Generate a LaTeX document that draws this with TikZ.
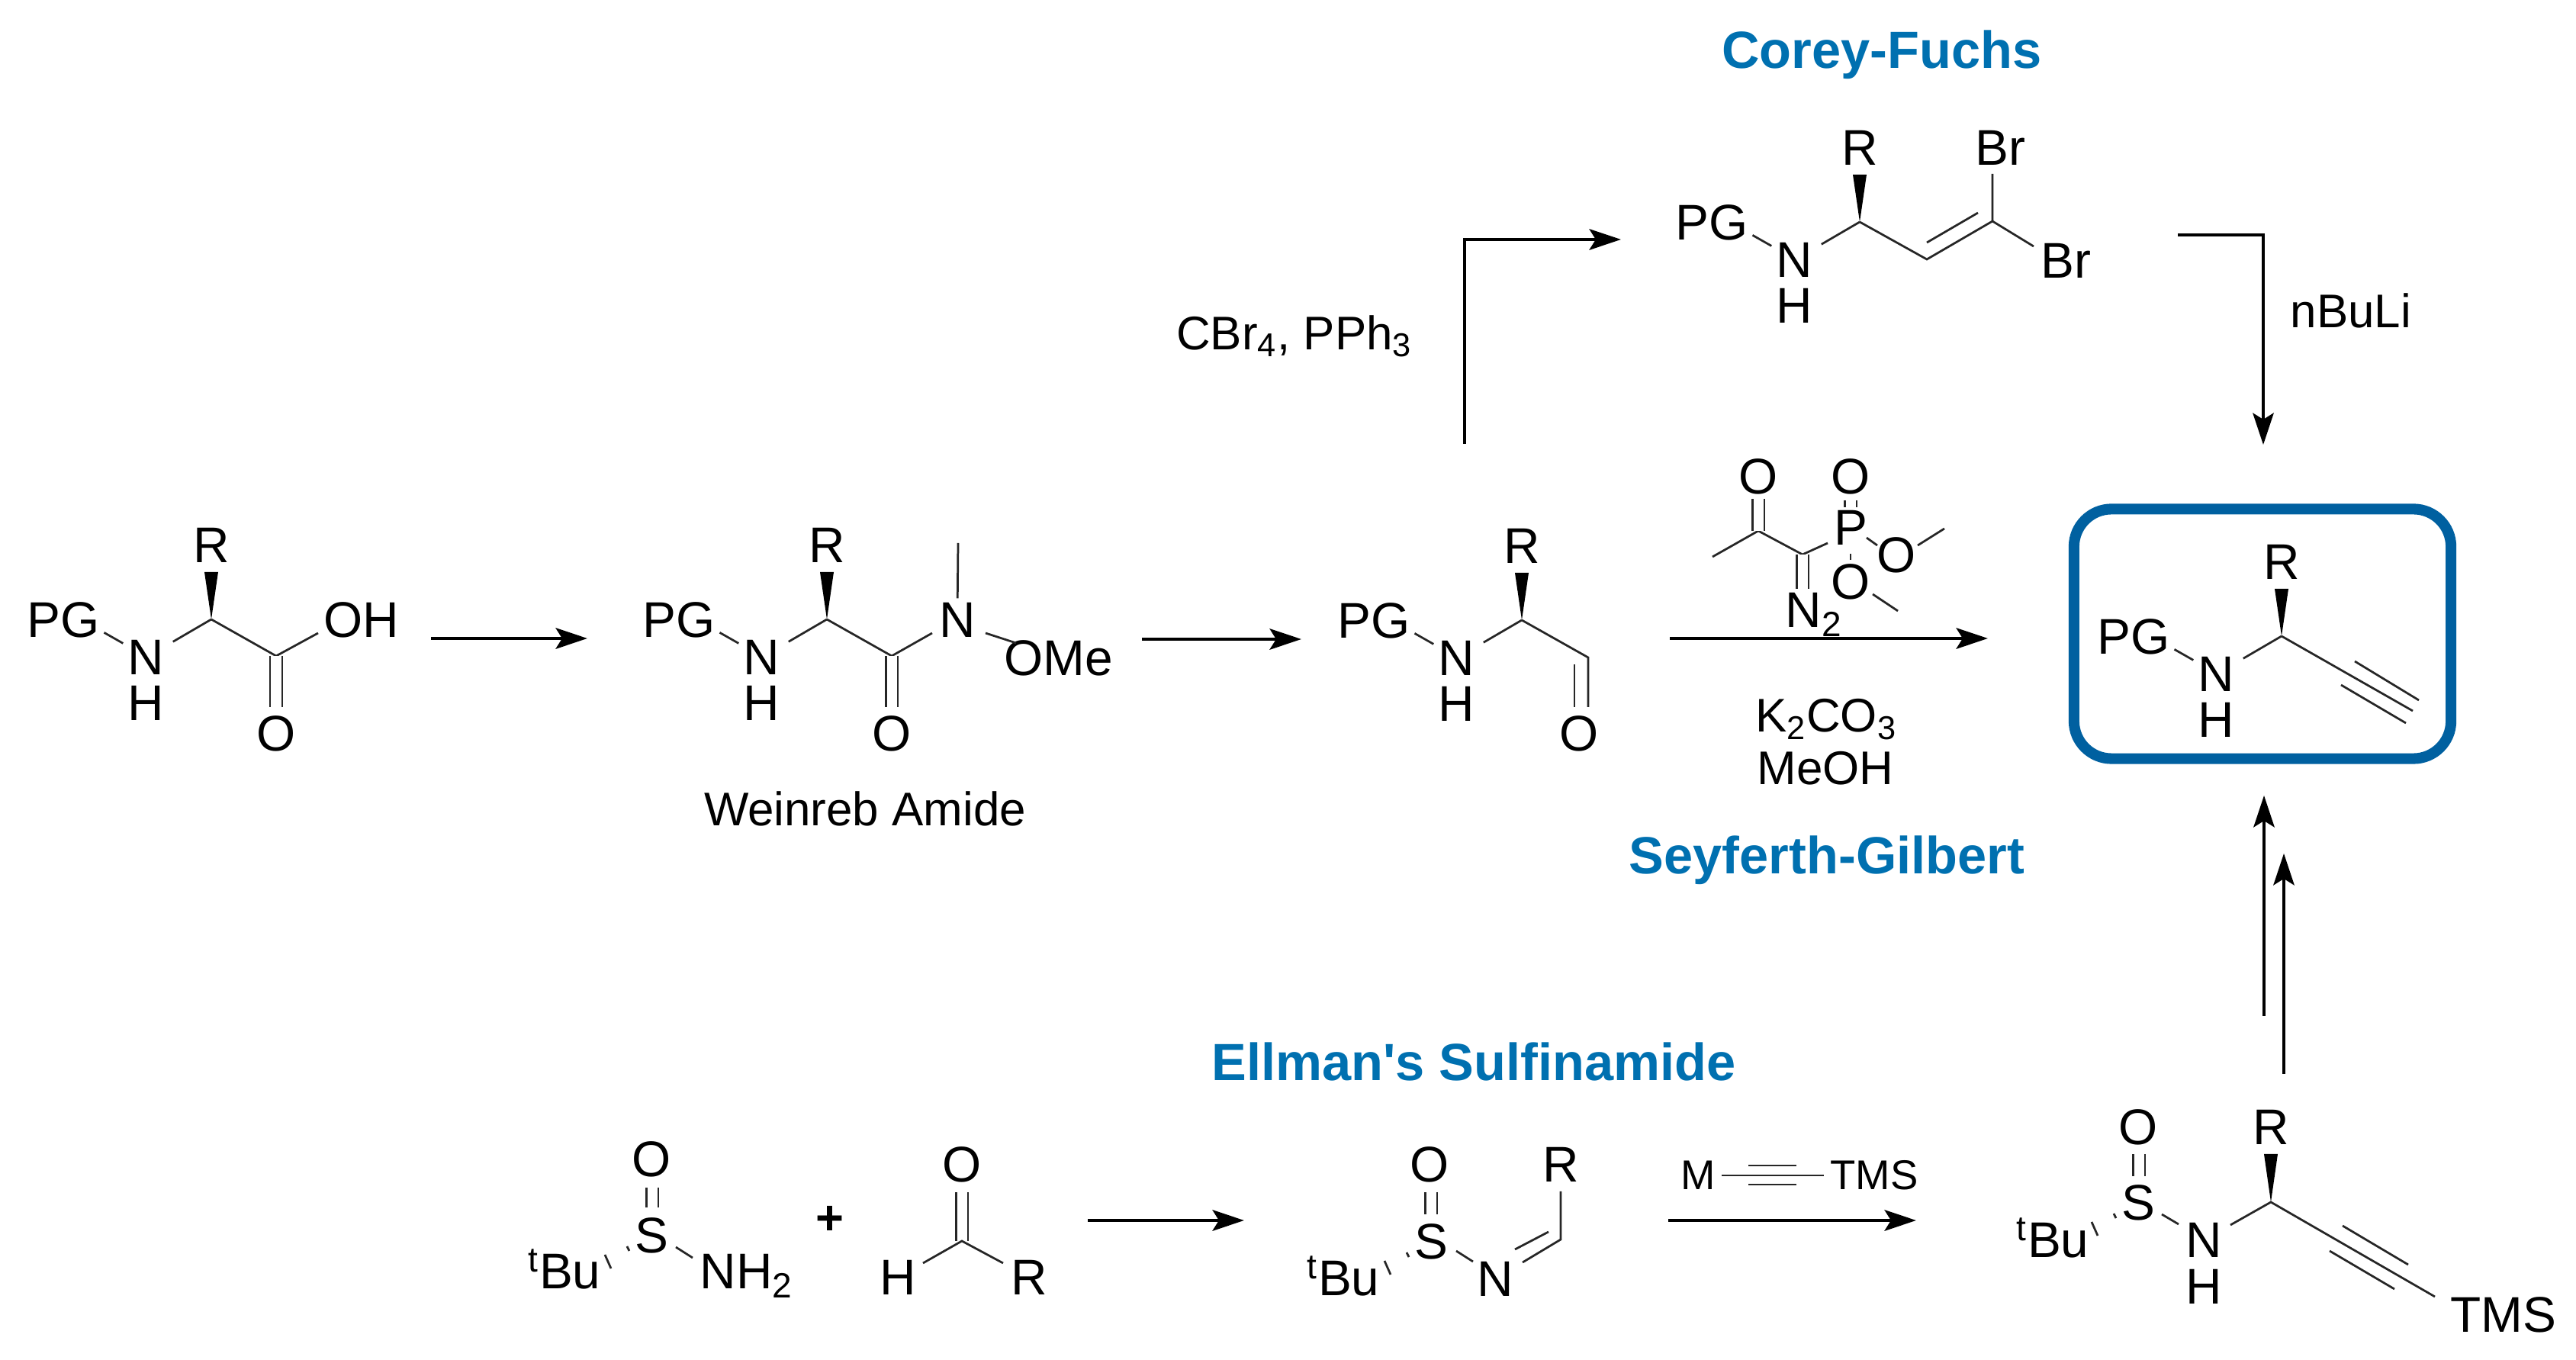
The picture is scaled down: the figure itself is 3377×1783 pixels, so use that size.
\documentclass[tikz,border=0pt]{standalone}
\usepackage{fontspec}
\setmainfont{Liberation Sans}
\usetikzlibrary{arrows.meta, calc}
\definecolor{titleblue}{HTML}{0070B0}
\definecolor{boxblue}{HTML}{0060A0}
\tikzset{
  atom/.style={font=\fontsize{18.7}{20}\selectfont, inner sep=1.5pt},
  lab/.style={font=\fontsize{17.6}{20}\selectfont, inner sep=0pt, align=center},
  title/.style={font=\fontsize{19.5}{22}\selectfont\bfseries, text=titleblue, inner sep=0pt},
  bond/.style={line width=0.78pt, black!85},
  dbl/.style={double, double distance=3.7pt, line width=0.65pt, black!85},
  rxn/.style={line width=1.1pt, -{Stealth[length=11.8pt, width=7.8pt, inset=2.4pt]}}
}

\begin{document}
\begin{tikzpicture}[x=0.01cm, y=-0.01cm]
    \useasboundingbox (0,0) rectangle (3377,1783);
    % common PG-NH-CH(R) part
    \foreach \m/\x/\y in {acid/277/812, amide/1084/812, ald/1995/813, dibr/2438/291, alk/2991/834}{
        \coordinate (\m-c) at (\x,\y);
        \node[atom] (\m-pg) at ($(\m-c)+(-194,1)$) {PG};
        \node[atom] (\m-n) at ($(\m-c)+(-86,50)$) {N};
        \node[atom] (\m-h) at ($(\m-c)+(-86,110)$) {H};
        \node[atom] (\m-r) at ($(\m-c)+(0,-97)$) {R};
        \draw[bond] (\m-pg.-17) -- (\m-n.148);
        \draw[bond, shorten <=2pt] (\m-n.30) -- (\m-c);
        \fill (\m-c) -- ($(\m-c)+(-9,-62)$) -- ($(\m-c)+(9,-62)$) -- cycle;
    }
    % acid
    \coordinate (acid-co) at (362,860);
    \node[atom] (acid-o) at (362,962) {O};
    \node[atom] (acid-oh) at (474,813) {OH};
    \draw[bond] (acid-c) -- (acid-co) -- ($(acid-oh)+(-57,17)$);
    \draw[dbl] (acid-co) -- (362,927) coordinate (acid-oe);
    % Weinreb amide
    \coordinate (amide-co) at (1169,860);
    \node[atom] (amide-o) at (1169,962) {O};
    \node[atom] (amide-nme) at (1255,813) {N};
    \node[atom] (amide-ome) at (1388,863) {OMe};
    \coordinate (amide-me) at (1256,712);
    \draw[bond] (amide-c) -- (amide-co) -- ($(amide-nme)+(-33,17)$);
    \draw[dbl] (amide-co) -- (1169,927) coordinate (amide-oe);
    \draw[bond] (amide-nme) -- (amide-me);
    \draw[bond] ($(amide-nme)+(37,17)$) -- ($(amide-ome)+(-56,-20)$);
    \node[lab] (weinreb) at (1134,1060) {Weinreb Amide};
    % aldehyde
    \coordinate (ald-co) at (2082,862);
    \node[atom] (ald-o) at (2070,962) {O};
    \draw[bond] (ald-c) -- (ald-co) -- ++(0,65);
    \draw[bond] ($(ald-co)+(-18,9)$) -- ++(0,56);
    % dibromoalkene
    \coordinate (dibr-ch) at (2526,340);
    \coordinate (dibr-cb) at (2612,290);
    \node[atom] (dibr-br1) at (2622,194) {Br};
    \node[atom] (dibr-br2) at (2708,342) {Br};
    \draw[bond] (dibr-c) -- (dibr-ch) -- (dibr-cb) -- (2612,228);
    \draw[bond] (dibr-cb) -- (2666,323);
    \draw[bond] ($(dibr-ch)+(0,-22)$) -- ($(dibr-cb)+(-19,-11)$);
    % alkyne in the box
    \node[draw=boxblue, line width=4pt, rounded corners=14pt, minimum width=4.94cm, minimum height=3.27cm] (prodbox) at (2966,831) {};
    \coordinate (alk-end) at (3163,932);
    \draw[bond] (alk-c) -- (alk-end);
    \draw[bond] (3087,867) -- (3171,918);
    \draw[bond] (3069,898) -- (3154,948);
    % Seyferth-Gilbert reagent
    \node[atom] (sg-o1) at (2305,625) {O};
    \node[atom] (sg-o2) at (2426,625) {O};
    \node[atom] (sg-p) at (2426,692) {P};
    \node[atom] (sg-o3) at (2426,763) {O};
    \node[atom] (sg-o4) at (2486,728) {O};
    \node[atom, anchor=base west, inner sep=0pt] (sg-n2) at (2340,823) {N\textsubscript{2}};
    \coordinate (sg-ck) at (2305,696);
    \coordinate (sg-cn) at (2363,727);
    \draw[bond] (2245,730) -- (sg-ck) -- (sg-cn) -- (2396,712);
    \draw[dbl] (sg-ck) -- (2305,654);
    \draw[dbl] (sg-cn) -- (2363,772);
    \draw[dbl] (2426,656) -- (2426,665);
    \draw[bond] (2426,726) -- (2426,734);
    \draw[bond] (2447,705) -- (2461,715);
    \draw[bond] (2514,715) -- (2549,693);
    \draw[bond] (2455,779) -- (2488,801);
    % Ellman row
    \node[atom] (am-o) at (854,1520) {O};
    \node[atom] (am-s) at (854,1620) {S};
    \node[atom, anchor=base] (am-tbu) at (740,1690) {\textsuperscript{t}Bu};
    \node[atom, anchor=base west, inner sep=0pt] (am-nh) at (917,1690) {NH\textsubscript{2}};
    \draw[dbl] (855,1557) -- (855,1583);
    \draw[bond] (886,1635) -- (908,1649);
    \node[inner sep=0pt, font=\fontsize{18}{20}\selectfont\bfseries] (plus) at (1088,1600) {+};
    \node[atom] (rc-o) at (1261,1527) {O};
    \coordinate (rc-c) at (1261,1627);
    \node[atom] (rc-h) at (1177,1675) {H};
    \node[atom] (rc-r) at (1349,1675) {R};
    \draw[dbl] (rc-c) -- (1261,1563);
    \draw[bond] ($(rc-h)+(33,-19)$) -- (rc-c) -- ($(rc-r)+(-34,-19)$);
    % imine
    \node[atom] (im-o) at (1874,1527) {O};
    \node[atom] (im-r) at (2046,1527) {R};
    \node[atom] (im-s) at (1876,1628) {S};
    \node[atom] (im-n) at (1960,1677) {N};
    \node[atom, anchor=base] (im-tbu) at (1761,1699) {\textsuperscript{t}Bu};
    \coordinate (im-c) at (2046,1625);
    \draw[dbl] (1876,1563) -- (1876,1592);
    \draw[bond] (1909,1640) -- (1931,1654);
    \draw[bond] (1996,1655) -- (im-c) -- (2046,1562);
    \draw[bond] (1986,1638) -- (2030,1615);
    % addition product
    \node[atom] (ad-o) at (2803,1478) {O};
    \node[atom] (ad-r) at (2977,1478) {R};
    \node[atom] (ad-s) at (2803,1577) {S};
    \node[atom] (ad-n) at (2889,1626) {N};
    \node[atom] (ad-h) at (2889,1687) {H};
    \node[atom, anchor=base] (ad-tbu) at (2691,1649) {\textsuperscript{t}Bu};
    \node[atom] (ad-tms) at (3282,1724) {TMS};
    \coordinate (ad-c) at (2977,1576);
    \draw[dbl] (2804,1513) -- (2804,1542);
    \draw[bond] (2834,1592) -- (2856,1605);
    \draw[bond] ($(ad-n)+(35,-20)$) -- (ad-c) -- (3192,1700);
    \fill (ad-c) -- ($(ad-c)+(-9,-63)$) -- ($(ad-c)+(9,-63)$) -- cycle;
    \draw[bond] (3071,1607) -- (3157,1658);
    \draw[bond] (3054,1640) -- (3139,1690);
    % hashed S-tBu bonds
    \foreach \s in {am-s, im-s, ad-s}{
        \draw[bond] ($(\s)+(-32,14)$) -- ++(3,6);
        \draw[bond] ($(\s)+(-61,25)$) -- ++(8,18);
    }
    % straight arrows
    \foreach \a/\xa/\xb/\yy in {ar1/565/770/837, ar2/1497/1706/838, ar3/2189/2606/837, ar4/1426/1631/1600, ar5/2187/2512/1600}{
        \coordinate (\a s) at (\xa,\yy);
        \coordinate (\a e) at (\xb,\yy);
        \draw[rxn] (\a s) -- (\a e);
    }
    % arrows with a corner
    \coordinate (cf-a) at (1920,582);
    \coordinate (cf-b) at (1920,314);
    \coordinate (cf-c) at (2125,314);
    \draw[rxn] (cf-a) -- (cf-b) -- (cf-c);
    \coordinate (li-a) at (2855,308);
    \coordinate (li-b) at (2967,308);
    \coordinate (li-c) at (2967,583);
    \draw[rxn] (li-a) -- (li-b) -- (li-c);
    % equilibrium arrows
    \coordinate (up1s) at (2968,1332);
    \coordinate (up1e) at (2968,1043);
    \coordinate (up2s) at (2994,1408);
    \coordinate (up2e) at (2994,1119);
    \draw[rxn] (up1s) -- (up1e);
    \draw[rxn] (up2s) -- (up2e);
    % reagents
    \node[lab] (cbr) at (1697,441) {CBr\textsubscript{4}, PPh\textsubscript{3}};
    \node[lab] (buli) at (3082,407) {nBuLi};
    \node[lab] (kco) at (2394,943) {K\textsubscript{2}CO\textsubscript{3}};
    \node[lab] (meoh) at (2393,1007) {MeOH};
    \node[lab, font=\fontsize{15.5}{18}\selectfont] (tms-m) at (2226,1541) {M};
    \node[lab, font=\fontsize{15.5}{18}\selectfont] (tms-t) at (2457,1541) {TMS};
    \draw[bond] (tms-m.east) ++(8,0) -- (2391,1541);
    \draw[bond] (2292,1528) -- (2355,1528);
    \draw[bond] (2292,1553) -- (2355,1553);
    % titles
    \node[title] (corey) at (2467,72) {Corey-Fuchs};
    \node[title] (seyf) at (2395,1128) {Seyferth-Gilbert};
    \node[title] (ellman) at (1932,1392) {Ellman\textquotesingle s Sulfinamide};
\end{tikzpicture}
\end{document}
